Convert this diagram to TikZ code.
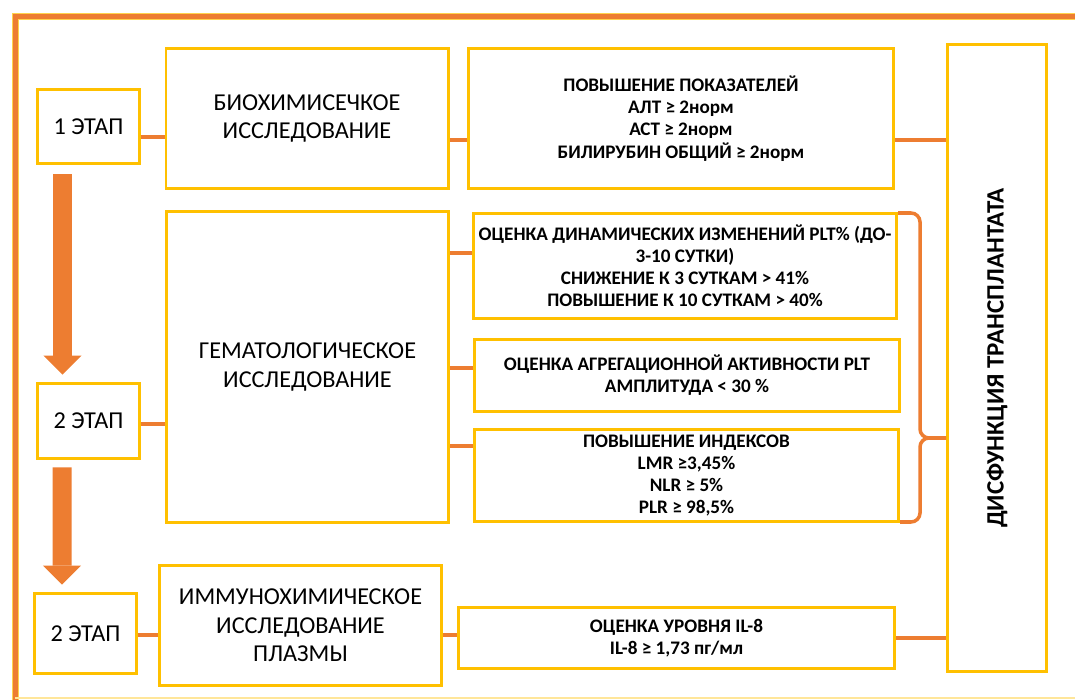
\documentclass[tikz,border=0pt]{standalone}
\usepackage{fontspec}
\setmainfont{Carlito}
\usepackage{tikz}
\usetikzlibrary{arrows.meta,positioning,calc}

\definecolor{boxyellow}{HTML}{FFC000}
\definecolor{linkorange}{HTML}{ED7D31}

\begin{document}
\begin{tikzpicture}[x=0.2mm, y=-0.2mm,
    box/.style={rectangle, draw=boxyellow, line width=1.7pt, fill=white, align=center, inner sep=2pt},
    stage/.style={box, font=\fontsize{13.8}{16.2}\selectfont, minimum width=2.04cm},
    study/.style={box, font=\fontsize{13.8}{16.2}\selectfont, minimum width=5.64cm},
    result/.style={box, font=\bfseries\fontsize{10.9}{12.6}\selectfont},
    link/.style={draw=linkorange, line width=2pt},
    brace/.style={link, rounded corners=1.8mm},
    bigarrow/.style={draw=linkorange, line width=3.8mm, -{Triangle[width=7.6mm, length=3.8mm, line width=0pt]}}]

    \useasboundingbox (0,0) rectangle (1075,700);

    % Frame
    \draw[boxyellow!70, line width=1.4mm] (15,700) -- (15,17) -- (1075,17);
    \draw[linkorange, line width=1mm] (15,700) -- (15,17) -- (1075,17);
    \draw[boxyellow!40, line width=0.6pt] (15,698) -- (1075,698);

    % Stages
    \node[stage, minimum height=1.48cm] (stage1) at (88.5,126.5) {1 ЭТАП};
    \node[stage, minimum height=1.5cm] (stage2) at (88.5,421) {2 ЭТАП};
    \node[stage, minimum height=1.6cm] (stage3) at (85.5,633.5) {2 ЭТАП};

    % Studies
    \node[study, minimum height=2.8cm] (bio) at (307,118.5) {БИОХИМИСЕЧКОЕ\\ИССЛЕДОВАНИЕ};
    \node[study, minimum height=6.22cm] (hem) at (307.5,367) {ГЕМАТОЛОГИЧЕСКОЕ\\ИССЛЕДОВАНИЕ};
    \node[study, minimum height=2.4cm] (immuno) at (300.5,625.5) {ИММУНОХИМИЧЕСКОЕ\\ИССЛЕДОВАНИЕ\\ПЛАЗМЫ};

    % Results
    \node[result, minimum width=8.5cm, minimum height=2.8cm] (liver) at (681,118.5)
        {ПОВЫШЕНИЕ ПОКАЗАТЕЛЕЙ\\АЛТ ≥ 2норм\\АСТ ≥ 2норм\\БИЛИРУБИН ОБЩИЙ ≥ 2норм};
    \node[result, minimum width=8.46cm, minimum height=2.1cm] (dynamics) at (685,266)
        {ОЦЕНКА ДИНАМИЧЕСКИХ ИЗМЕНЕНИЙ PLT\% (ДО-\\3-10 СУТКИ)\\СНИЖЕНИЕ К 3 СУТКАМ > 41\%\\ПОВЫШЕНИЕ К 10 СУТКАМ > 40\%};
    \node[result, minimum width=8.5cm, minimum height=1.44cm] (aggreg) at (687,375.5)
        {ОЦЕНКА АГРЕГАЦИОННОЙ АКТИВНОСТИ PLT\\АМПЛИТУДА < 30 \%};
    \node[result, minimum width=8.48cm, minimum height=1.84cm] (indexes) at (686.5,475.5)
        {ПОВЫШЕНИЕ ИНДЕКСОВ\\LMR ≥3,45\%\\NLR ≥ 5\%\\PLR ≥ 98,5\%};
    \node[result, minimum width=8.72cm, minimum height=1.22cm] (il8) at (676.5,638)
        {ОЦЕНКА УРОВНЯ IL-8\\IL-8 ≥ 1,73 пг/мл};

    % Outcome
    \node[box, minimum width=1.98cm, minimum height=12.54cm] (dysf) at (997,358) {};
    \node[rotate=90, font=\bfseries\fontsize{14.2}{16}\selectfont] (dysflabel) at (dysf.center) {ДИСФУНКЦИЯ ТРАНСПЛАНТАТА};

    % Stage arrows
    \draw[bigarrow] ([xshift=-5.2mm, yshift=-1.9mm]stage1.south) -- ([xshift=-5.2mm, yshift=1.5mm]stage2.north);
    \draw[bigarrow] ([xshift=-5.3mm, yshift=-1.5mm]stage2.south) -- ([xshift=-4.7mm, yshift=1.5mm]stage3.north);

    % Links
    \draw[link] (stage1.east |- 0,137) -- (bio.west |- 0,137);
    \draw[link] (bio.east |- 0,140) -- (liver.west |- 0,140);
    \draw[link] (liver.east |- 0,140) -- (dysf.west |- 0,140);
    \draw[link] (stage2.east |- 0,424) -- (hem.west |- 0,424);
    \draw[link] (hem.east |- 0,253) -- (dynamics.west |- 0,253);
    \draw[link] (hem.east |- 0,368) -- (aggreg.west |- 0,368);
    \draw[link] (hem.east |- 0,446) -- (indexes.west |- 0,446);
    \draw[link] (stage3.east |- 0,635) -- (immuno.west |- 0,635);
    \draw[link] (immuno.east |- 0,635) -- (il8.west |- 0,635);
    \draw[link] (il8.east |- 0,638) -- (dysf.west |- 0,638);

    % Brace
    \draw[brace] (dynamics.east |- 0,213) -| (920,438) -- (dysf.west |- 0,438);
    \draw[brace] (indexes.east |- 0,522) -| (920,438) -- (dysf.west |- 0,438);

\end{tikzpicture}
\end{document}
